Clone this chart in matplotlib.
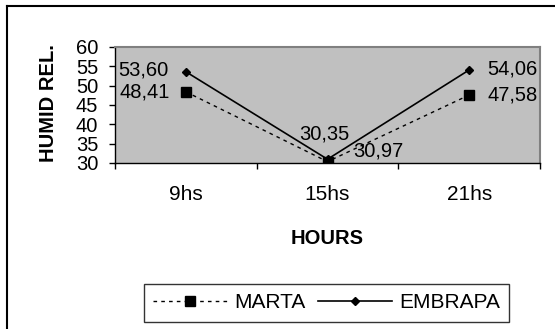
import matplotlib
matplotlib.use("Agg")
import matplotlib.pyplot as plt
from matplotlib.lines import Line2D

# data
hours = ["9hs", "15hs", "21hs"]
marta = [48.41, 30.35, 47.58]
embrapa = [53.60, 30.97, 54.06]
marta_txt = ["48,41", "30,35", "47,58"]
embrapa_txt = ["53,60", "30,97", "54,06"]

plt.rcParams['font.family'] = ['Liberation Sans', 'DejaVu Sans']

fig = plt.figure(figsize=(5.55, 3.29), dpi=100)
ax = fig.add_axes([0.2072, 0.5046, 0.7658, 0.3526])
ax.set_facecolor('#c0c0c0')

x = [1, 2, 3]
l1, = ax.plot(x, marta, color='black', lw=1.0, linestyle=(0, (2.6, 3.0)),
              marker='s', markersize=6.5, label='MARTA', zorder=3)
l2, = ax.plot(x, embrapa, color='black', lw=1.2, marker='D',
              markersize=4.4, label='EMBRAPA', zorder=4)

# data labels (pixel offsets from the point)
m_off = [(-16, 0, 'right'), (-28, 28, 'left'), (18, 0, 'left')]
e_off = [(-17, 2, 'right'), (26, 8, 'left'), (18, 1, 'left')]
for xi, v, t, (dx, dy, ha) in zip(x, marta, marta_txt, m_off):
    ax.annotate(t, (xi, v), xytext=(dx, dy), textcoords='offset pixels',
                ha=ha, va='center', fontsize=14.5, annotation_clip=False, zorder=5)
for xi, v, t, (dx, dy, ha) in zip(x, embrapa, embrapa_txt, e_off):
    ax.annotate(t, (xi, v), xytext=(dx, dy), textcoords='offset pixels',
                ha=ha, va='center', fontsize=14.5, annotation_clip=False, zorder=5)

ax.set_xlim(0.5, 3.5)
ax.set_ylim(30, 60)
ax.set_yticks(range(30, 61, 5))
ax.tick_params(axis='y', direction='out', length=4, width=1, pad=8, labelsize=14.5)

ax.set_xticks([0.5, 1.5, 2.5, 3.5])
ax.set_xticklabels([])
ax.tick_params(axis='x', which='major', direction='out', length=4, width=1)
ax.set_xticks(x, minor=True)
ax.set_xticklabels(hours, minor=True)
ax.tick_params(axis='x', which='minor', length=0, pad=16, labelsize=15)

for s in ['top', 'right']:
    ax.spines[s].set_color('#808080')
    ax.spines[s].set_linewidth(1.5)
for s in ['left', 'bottom']:
    ax.spines[s].set_color('black')
    ax.spines[s].set_linewidth(1)

fig.text(48 / 555, 1 - 103 / 329, 'HUMID REL.', rotation=90, ha='center', va='center',
         fontsize=14.5, fontweight='bold')
fig.text(327 / 555, 1 - 238 / 329, 'HOURS', ha='center', va='center',
         fontsize=14.5, fontweight='bold')

leg = fig.legend(handles=[l1, l2], loc='center', ncol=2,
                 bbox_to_anchor=(326.5 / 555, 1 - 303 / 329),
                 fontsize=15, frameon=True, fancybox=False,
                 handlelength=3.55, handletextpad=0.34, columnspacing=0.58,
                 borderpad=0.45, borderaxespad=0)
leg.get_frame().set_edgecolor('black')
leg.get_frame().set_linewidth(1)

# outer frame (left and top edges)
fig.add_artist(Line2D([7 / 555, 7 / 555], [0, 1 - 6 / 329], color='black', lw=1.5,
                      transform=fig.transFigure))
fig.add_artist(Line2D([7 / 555, 1], [1 - 6 / 329, 1 - 6 / 329], color='black', lw=1.5,
                      transform=fig.transFigure))

fig.savefig('out.png', dpi=100)
